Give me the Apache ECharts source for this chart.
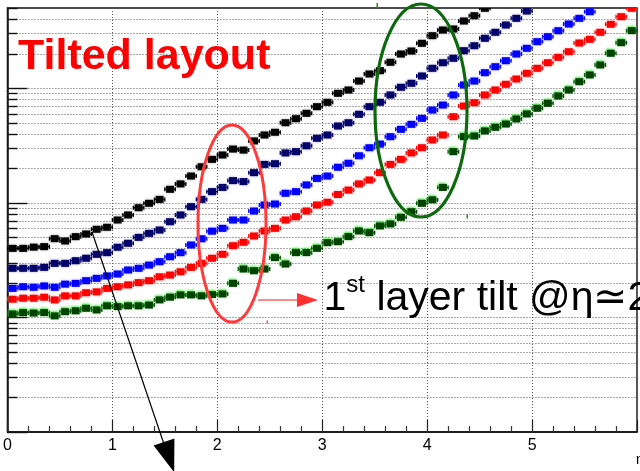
<!DOCTYPE html>
<html>
<head>
<meta charset="utf-8">
<script src="https://cdn.jsdelivr.net/npm/echarts@6/dist/echarts.min.js"></script>
<style>
  html, body { margin: 0; padding: 0; background: #fff; }
  #chart { width: 640px; height: 471px; }
</style>
</head>
<body>
<div id="chart"></div>
<script>
// eta bin centres (bin width 0.1)
const etaBins = [0.05,0.15,0.25,0.35,0.45,0.55,0.65,0.75,0.85,0.95,
                 1.05,1.15,1.25,1.35,1.45,1.55,1.65,1.75,1.85,1.95,
                 2.05,2.15,2.25,2.35,2.45,2.55,2.65,2.75,2.85,2.95,
                 3.05,3.15,3.25,3.35,3.45,3.55,3.65,3.75,3.85,3.95,
                 4.05,4.15,4.25,4.35,4.45,4.55,4.65,4.75,4.85,4.95,
                 5.05,5.15,5.25,5.35,5.45,5.55,5.65,5.75,5.85,5.95];

// resolution per eta bin, one array per sample
const resBlack = [40,40,41,41.4,48.6,46.4,50.6,53.4,58.7,61.1,
                  70.7,78.2,90.5,98.9,107,131,146,171,206,239,
                  261,294,288,346,390,412,499,541,603,689,
                  752,901,963,1153,1328,1419,1680,1984,2108,2460,
                  2867,3214,3279,3850,4282,4970];
const resNavy  = [26.8,26.8,26.8,27.3,29.6,29.6,31.2,32.8,35.5,36.7,
                  40.9,44.3,49.9,54.1,57.8,68.3,78.2,92.4,107,125,
                  136,156,153,183,216,219,272,279,314,365,
                  390,467,499,591,689,752,871,1017,1102,1276,
                  1489,1666,1820,2121,2344,2720,3069,3553,4064,4706];
const resBlue  = [17.9,18.5,18.3,18.8,18.3,19.5,19.8,20.9,21.9,23.0,
                  23.9,25.9,26.8,28.6,30.6,33.8,36.7,42.8,48.5,56.5,
                  59.8,70.7,70.7,84.7,95.6,97.5,121,125,143,163,
                  171,204,221,257,302,325,377,437,483,545,
                  644,712,871,1065,1153,1363,1538,1734,1984,2225,
                  2541,2809,3169,3625,4064,4641];
const resRed   = [14.4,14.7,14.7,15.0,14.2,15.4,15.4,16.4,16.7,17.9,
                  18.5,19.2,20.1,20.9,22.6,23.4,25.0,27.3,29.6,32.8,
                  35.5,42.2,45.2,51.3,56.7,59.8,70.7,75.5,84.7,95.6,
                  101,118,129,146,158,183,216,239,272,302,
                  353,390,563,698,746,871,963,1080,1201,1346,
                  1489,1666,1857,2078,2475,2666,3069,3603,4198,4970];
const resGreen = [10.7,11.0,10.9,11.0,10.3,11.2,11.4,12.0,11.6,12.6,
                  12.4,12.6,12.6,12.8,14.2,15.0,15.7,15.7,15.4,15.8,
                  16.0,19.8,26.4,25.5,26.4,33.2,29.2,36.7,36.7,40.0,
                  44.8,45.7,50.6,56.7,54.8,62.7,65.3,74.6,83.5,98.9,
                  106,136,279,377,382,423,455,486,538,595,
                  667,737,854,963,1137,1302,1591,2013,2490,3169];

// axis ticks
const xTickLabels = ['0','1','2','3','4','5'];
const yMajorTicks = [1,10,100,1000];
const yMinorTicks = [2,3,4,5,6,7,8,9,20,30,40,50,60,70,80,90,
                     200,300,400,500,600,700,800,900,2000,3000,4000,5000];
const yMin = 1, yMax = 5000;
const halfBin = 0.05;

const FONT = '"Liberation Sans", Arial, Helvetica, sans-serif';

function pairs(arr) {
  return arr.map((v, i) => [etaBins[i], v]);
}

// dotted grid line + inner tick for every log tick
function renderLogTicks(params, api) {
  const v = api.value(1);
  const major = api.value(2) === 1;
  const cs = params.coordSys;
  const y = Math.round(api.coord([0, v])[1]) + 0.5;
  const children = [];
  if (v > yMin && v < yMax) {
    children.push({
      type: 'line',
      shape: { x1: cs.x, y1: y, x2: cs.x + cs.width, y2: y },
      style: { stroke: '#555', lineWidth: 1, lineDash: [1, 2] },
      silent: true
    });
  }
  children.push({
    type: 'line',
    shape: { x1: cs.x, y1: y, x2: cs.x + (major ? 20 : 10), y2: y },
    style: { stroke: '#111', lineWidth: 1.4 },
    silent: true
  });
  return { type: 'group', children };
}

// square marker with horizontal bin-width bar
function markerRenderer(color, halo, shadowDx, shadowDy) {
  return function (params, api) {
    const x = api.value(0), v = api.value(1);
    const c = api.coord([x, v]);
    const l = api.coord([x - halfBin, v]);
    const r = api.coord([x + halfBin, v]);
    const cy = c[1];
    const bar = { stroke: color, lineWidth: 1.3 };
    return {
      type: 'group',
      children: [
        { type: 'line', shape: { x1: l[0], y1: cy, x2: r[0], y2: cy }, style: bar },
        { type: 'line', shape: { x1: l[0], y1: cy - 2, x2: l[0], y2: cy + 2 }, style: bar },
        { type: 'line', shape: { x1: r[0], y1: cy - 2, x2: r[0], y2: cy + 2 }, style: bar },
        {
          type: 'rect',
          shape: { x: c[0] - 4, y: cy - 3.5, width: 8, height: 7 },
          style: {
            fill: color,
            shadowColor: halo,
            shadowBlur: 2.5,
            shadowOffsetX: shadowDx,
            shadowOffsetY: shadowDy
          }
        }
      ]
    };
  };
}

const samples = [
  { name: 'black', data: resBlack, color: '#000000', halo: 'rgba(0,0,0,0.35)', dx: 0, dy: 0 },
  { name: 'navy',  data: resNavy,  color: '#000068', halo: 'rgba(60,60,170,0.5)', dx: 0, dy: 0 },
  { name: 'blue',  data: resBlue,  color: '#0000ff', halo: 'rgba(110,110,255,0.6)', dx: 0, dy: 0 },
  { name: 'red',   data: resRed,   color: '#ff0000', halo: 'rgba(255,120,120,0.6)', dx: 0, dy: 0 },
  { name: 'green', data: resGreen, color: '#004200', halo: 'rgba(30,230,30,0.9)', dx: -0.5, dy: -1 }
];

const tickData = yMajorTicks.map(v => [0, v, 1]).concat(yMinorTicks.map(v => [0, v, 0]));

const series = [{
  type: 'custom',
  name: 'log grid',
  data: tickData,
  renderItem: renderLogTicks,
  silent: true,
  z: 1,
  clip: false
}].concat(samples.map(s => ({
  type: 'custom',
  name: s.name,
  data: pairs(s.data),
  renderItem: markerRenderer(s.color, s.halo, s.dx, s.dy),
  clip: true,
  z: 3
})));

const chart = echarts.init(document.getElementById('chart'), null, { renderer: 'canvas' });

chart.setOption({
  animation: false,
  backgroundColor: '#ffffff',
  grid: {
    left: 7, top: 8, right: -5.4, bottom: 39,
    show: true, borderColor: '#111', borderWidth: 1.4,
    backgroundColor: 'transparent'
  },
  xAxis: {
    type: 'value',
    min: 0, max: 6, interval: 1,
    axisLine: { show: true, onZero: false, lineStyle: { color: '#111', width: 1.5 } },
    axisTick: { show: true, inside: true, length: 12, lineStyle: { color: '#222', width: 1.2 } },
    minorTick: { show: true, splitNumber: 5, length: 6, lineStyle: { color: '#333', width: 1.2 } },
    splitLine: { show: true, lineStyle: { color: '#555', width: 1, type: [1, 2] } },
    axisLabel: {
      show: true, margin: 6, color: '#000', fontSize: 16, fontFamily: FONT,
      formatter: v => (xTickLabels[v] !== undefined ? xTickLabels[v] : '')
    }
  },
  yAxis: {
    type: 'log',
    logBase: 10,
    min: yMin, max: yMax,
    axisLine: { show: true, lineStyle: { color: '#111', width: 1.5 } },
    axisTick: { show: false },
    axisLabel: { show: false },
    splitLine: { show: false }
  },
  series: series,
  graphic: [
    // title
    { type: 'text', x: 18, y: 57, z: 10,
      style: { text: 'Tilted layout', font: 'bold 43px ' + FONT, fill: '#ff0000',
               align: 'left', verticalAlign: 'middle' } },
    // red ellipse around the first-layer tilt
    { type: 'ellipse', z: 10, shape: { cx: 232, cy: 223.5, rx: 34, ry: 98.5 },
      style: { fill: 'none', stroke: '#ff3a3a', lineWidth: 3 } },
    // green ellipse around the second step
    { type: 'ellipse', z: 10, shape: { cx: 421, cy: 110.5, rx: 46, ry: 106.5 },
      style: { fill: 'none', stroke: '#0c6a0c', lineWidth: 3.2 } },
    // red arrow
    { type: 'line', z: 10, shape: { x1: 258, y1: 300, x2: 299, y2: 300 },
      style: { stroke: '#ff8a8a', lineWidth: 2 } },
    { type: 'polygon', z: 10, shape: { points: [[297, 293], [318, 300], [297, 307]] },
      style: { fill: '#ff3030' } },
    // annotation text
    { type: 'text', x: 323.5, y: 299, z: 10,
      style: { text: '1', font: '41px ' + FONT, fill: '#000', align: 'left', verticalAlign: 'middle' } },
    { type: 'text', x: 346.3, y: 285, z: 10,
      style: { text: 'st', font: '24px ' + FONT, fill: '#000', align: 'left', verticalAlign: 'middle' } },
    { type: 'text', x: 365, y: 299, z: 10,
      style: { text: ' layer tilt @η≃2', font: '41px ' + FONT, fill: '#000', align: 'left', verticalAlign: 'middle' } },
    // black arrow
    { type: 'line', z: 10, shape: { x1: 92, y1: 232, x2: 166, y2: 450 },
      style: { stroke: '#000', lineWidth: 1.2 } },
    { type: 'polygon', z: 10, shape: { points: [[153.6, 445.5], [174.4, 438.5], [174.2, 472.3]] },
      style: { fill: '#000' } },
    // x-axis title
    { type: 'text', x: 636, y: 460, z: 10,
      style: { text: 'η', font: '14px ' + FONT, fill: '#000', align: 'left', verticalAlign: 'middle' } },
    // small pen marks
    { type: 'rect', z: 10, shape: { x: 266.5, y: 320.5, width: 1.5, height: 3 }, style: { fill: '#ff5a5a' } },
    { type: 'rect', z: 10, shape: { x: 376.5, y: 3, width: 1.5, height: 5 }, style: { fill: '#2a8a2a' } },
    { type: 'rect', z: 10, shape: { x: 466.5, y: 214.5, width: 1.5, height: 4 }, style: { fill: '#2a8a2a' } }
  ]
});
</script>
</body>
</html>
